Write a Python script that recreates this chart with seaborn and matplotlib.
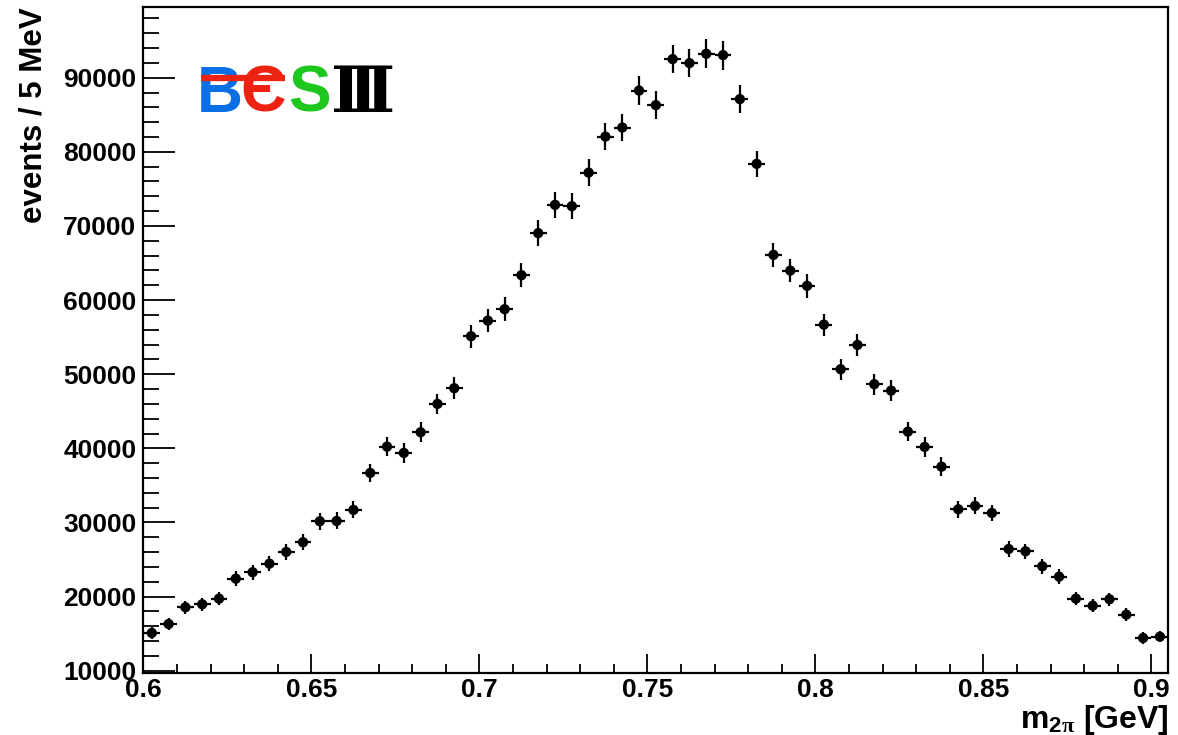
import numpy as np
import pandas as pd
import matplotlib
matplotlib.use("Agg")
import matplotlib.pyplot as plt
from matplotlib.lines import Line2D
from matplotlib.ticker import MultipleLocator, FixedLocator, FixedFormatter
import seaborn as sns

# ---------------- data ----------------
bin_width = 0.005
mass = [0.6025 + 0.005 * i for i in range(61)]  # bin centres [GeV]
events = [15090, 16300, 18560, 18960, 19720, 22420, 23280, 24440, 26020, 27330,
          30160, 30200, 31690, 36680, 40230, 39380, 42170, 45990, 48110, 55130,
          57230, 58770, 63360, 69030, 72850, 72670, 77200, 82060, 83280, 88270,
          86300, 92510, 91970, 93230, 93050, 87110, 78380, 66100, 63980, 61920,
          56690, 50670, 53950, 48650, 47790, 42250, 40190, 37530, 31780, 32230,
          31280, 26420, 26110, 24090, 22690, 19720, 18770, 19640, 17560, 14410,
          14590]
errors = [750, 800, 860, 870, 890, 1000, 1000, 1020, 1050, 1080,
          1150, 1150, 1150, 1250, 1300, 1300, 1350, 1400, 1450, 1550,
          1550, 1600, 1650, 1710, 1750, 1750, 1800, 1850, 1850, 1900,
          1900, 1930, 1930, 1980, 1950, 1870, 1780, 1620, 1600, 1600,
          1500, 1420, 1450, 1420, 1420, 1320, 1300, 1240, 1150, 1150,
          1130, 1060, 1050, 1000, 980, 920, 880, 900, 850, 760,
          760]
x_ticks = [0.6, 0.65, 0.7, 0.75, 0.8, 0.85, 0.9]
x_tick_labels = ["0.6", "0.65", "0.7", "0.75", "0.8", "0.85", "0.9"]
y_ticks = [10000, 20000, 30000, 40000, 50000, 60000, 70000, 80000, 90000]
y_tick_labels = ["10000", "20000", "30000", "40000", "50000", "60000", "70000", "80000", "90000"]

df = pd.DataFrame({"mass": mass, "events": events, "err": errors})

# ---------------- style ----------------
sns.set_theme(style="ticks")
plt.rcParams["font.family"] = ["Liberation Sans", "DejaVu Sans"]
plt.rcParams["font.weight"] = "bold"
plt.rcParams["text.color"] = "black"
plt.rcParams["axes.labelcolor"] = "black"
plt.rcParams["xtick.color"] = "black"
plt.rcParams["ytick.color"] = "black"
plt.rcParams["xtick.labelcolor"] = "black"
plt.rcParams["ytick.labelcolor"] = "black"
plt.rcParams["mathtext.fontset"] = "custom"
plt.rcParams["mathtext.rm"] = "Liberation Sans:bold"
plt.rcParams["mathtext.bf"] = "Liberation Sans:bold"
plt.rcParams["mathtext.it"] = "Liberation Serif:bold"

W, H = 1178, 735
fig = plt.figure(figsize=(W / 100, H / 100), dpi=100)
ax = fig.add_axes([143.4 / W, 1 - 672.7 / H, (1168.3 - 143.4) / W, (672.7 - 7.3) / H])

ax.errorbar(df["mass"], df["events"], yerr=df["err"], xerr=bin_width / 2,
            fmt="none", ecolor="black", elinewidth=1.6, capsize=0, zorder=2)
sns.scatterplot(data=df, x="mass", y="events", ax=ax, color="black", s=55,
                edgecolor="none", linewidth=0, zorder=3, legend=False)

ax.set_xlim(0.6, 0.905)
ax.set_ylim(9730, 99500)

ax.xaxis.set_major_locator(FixedLocator(x_ticks))
ax.xaxis.set_major_formatter(FixedFormatter(x_tick_labels))
ax.xaxis.set_minor_locator(MultipleLocator(0.01))
ax.yaxis.set_major_locator(FixedLocator(y_ticks))
ax.yaxis.set_major_formatter(FixedFormatter(y_tick_labels))
ax.yaxis.set_minor_locator(MultipleLocator(2000))

ax.tick_params(axis="both", which="both", direction="in", color="black",
               labelcolor="black", top=False, right=False, width=1.3)
ax.tick_params(axis="x", which="major", length=13.5, pad=4, labelsize=19)
ax.tick_params(axis="x", which="minor", length=6.5)
ax.tick_params(axis="y", which="major", length=23, pad=5, labelsize=19)
ax.tick_params(axis="y", which="minor", length=11.5)
for lab in ax.get_xticklabels() + ax.get_yticklabels():
    lab.set_fontweight("bold")

for sp in ax.spines.values():
    sp.set_linewidth(1.6)
    sp.set_color("black")

ax.set_xlabel(r"m$_{2\pi}$ [GeV]", fontsize=23, fontweight="bold", loc="right",
              color="black")
ax.xaxis.set_label_coords(1.0, -0.045)
ax.set_ylabel("events / 5 MeV", fontsize=22.5, fontweight="bold", loc="top",
              color="black")
ax.yaxis.set_label_coords(-0.093, 1.0)

# ---------------- BESIII logo ----------------
logo_family = ["Liberation Sans", "DejaVu Sans"]
fs = 46
base_y = 1 - 112 / H
fig.text(220 / W, base_y, "B", color="#0a6fe3", fontsize=fs, fontweight="bold",
         ha="center", va="baseline", family=logo_family)
fig.text(263 / W, base_y, "\u0404", color="#ee2211", fontsize=fs, fontweight="bold",
         ha="center", va="baseline", family=logo_family)
fig.text(309 / W, base_y, "S", color="#1dc71d", fontsize=fs, fontweight="bold",
         ha="center", va="baseline", family=logo_family)
fig.text(363 / W, base_y, "\u2162", color="black", fontsize=fs, fontweight="bold",
         ha="center", va="baseline", family=["DejaVu Serif", "DejaVu Sans"])
fig.add_artist(Line2D([201 / W, 285 / W], [1 - 78 / H, 1 - 78 / H],
                      transform=fig.transFigure, color="#ee2211", linewidth=4.5,
                      solid_capstyle="butt", zorder=5))

fig.savefig("out.png", dpi=100)
